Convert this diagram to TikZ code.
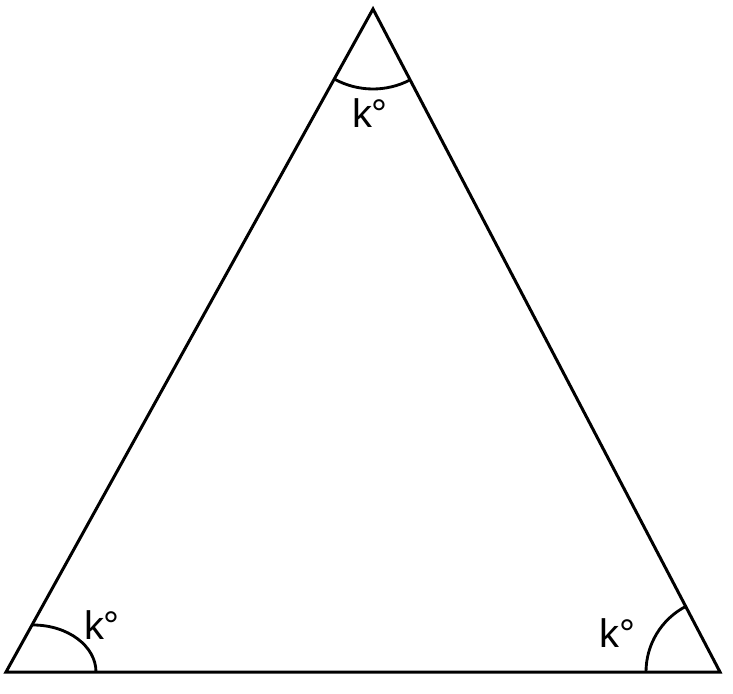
\documentclass[tikz,border=0pt]{standalone}
\usepackage{fontspec}
\setmainfont{Liberation Sans}
\usetikzlibrary{angles}
\begin{document}
\begin{tikzpicture}[x=0.03cm,y=0.03cm,line width=0.09cm,
    anglelabel/.style={font=\fontsize{34}{40}\selectfont,inner sep=0pt}]
      \useasboundingbox (0,0) rectangle (733,693);
      \coordinate (A) at (6,21);
      \coordinate (B) at (720,21);
      \coordinate (C) at (373,684);
      \draw[line join=miter] (A) -- (B) -- (C) -- cycle;
      \begin{scope}[line width=0.085cm]
        \draw (A) ++(27,47) arc[start angle=90,end angle=0,x radius=63,y radius=47];
        \draw pic[draw,angle radius=2.22cm] {angle=C--B--A};
        \draw pic[draw,angle radius=2.4cm] {angle=A--C--B};
      \end{scope}
      \node[anglelabel] (kA) at (102,68) {k°};
      \node[anglelabel] (kB) at (617,60) {k°};
      \node[anglelabel] (kC) at (370,580) {k°};
    \end{tikzpicture}
\end{document}
